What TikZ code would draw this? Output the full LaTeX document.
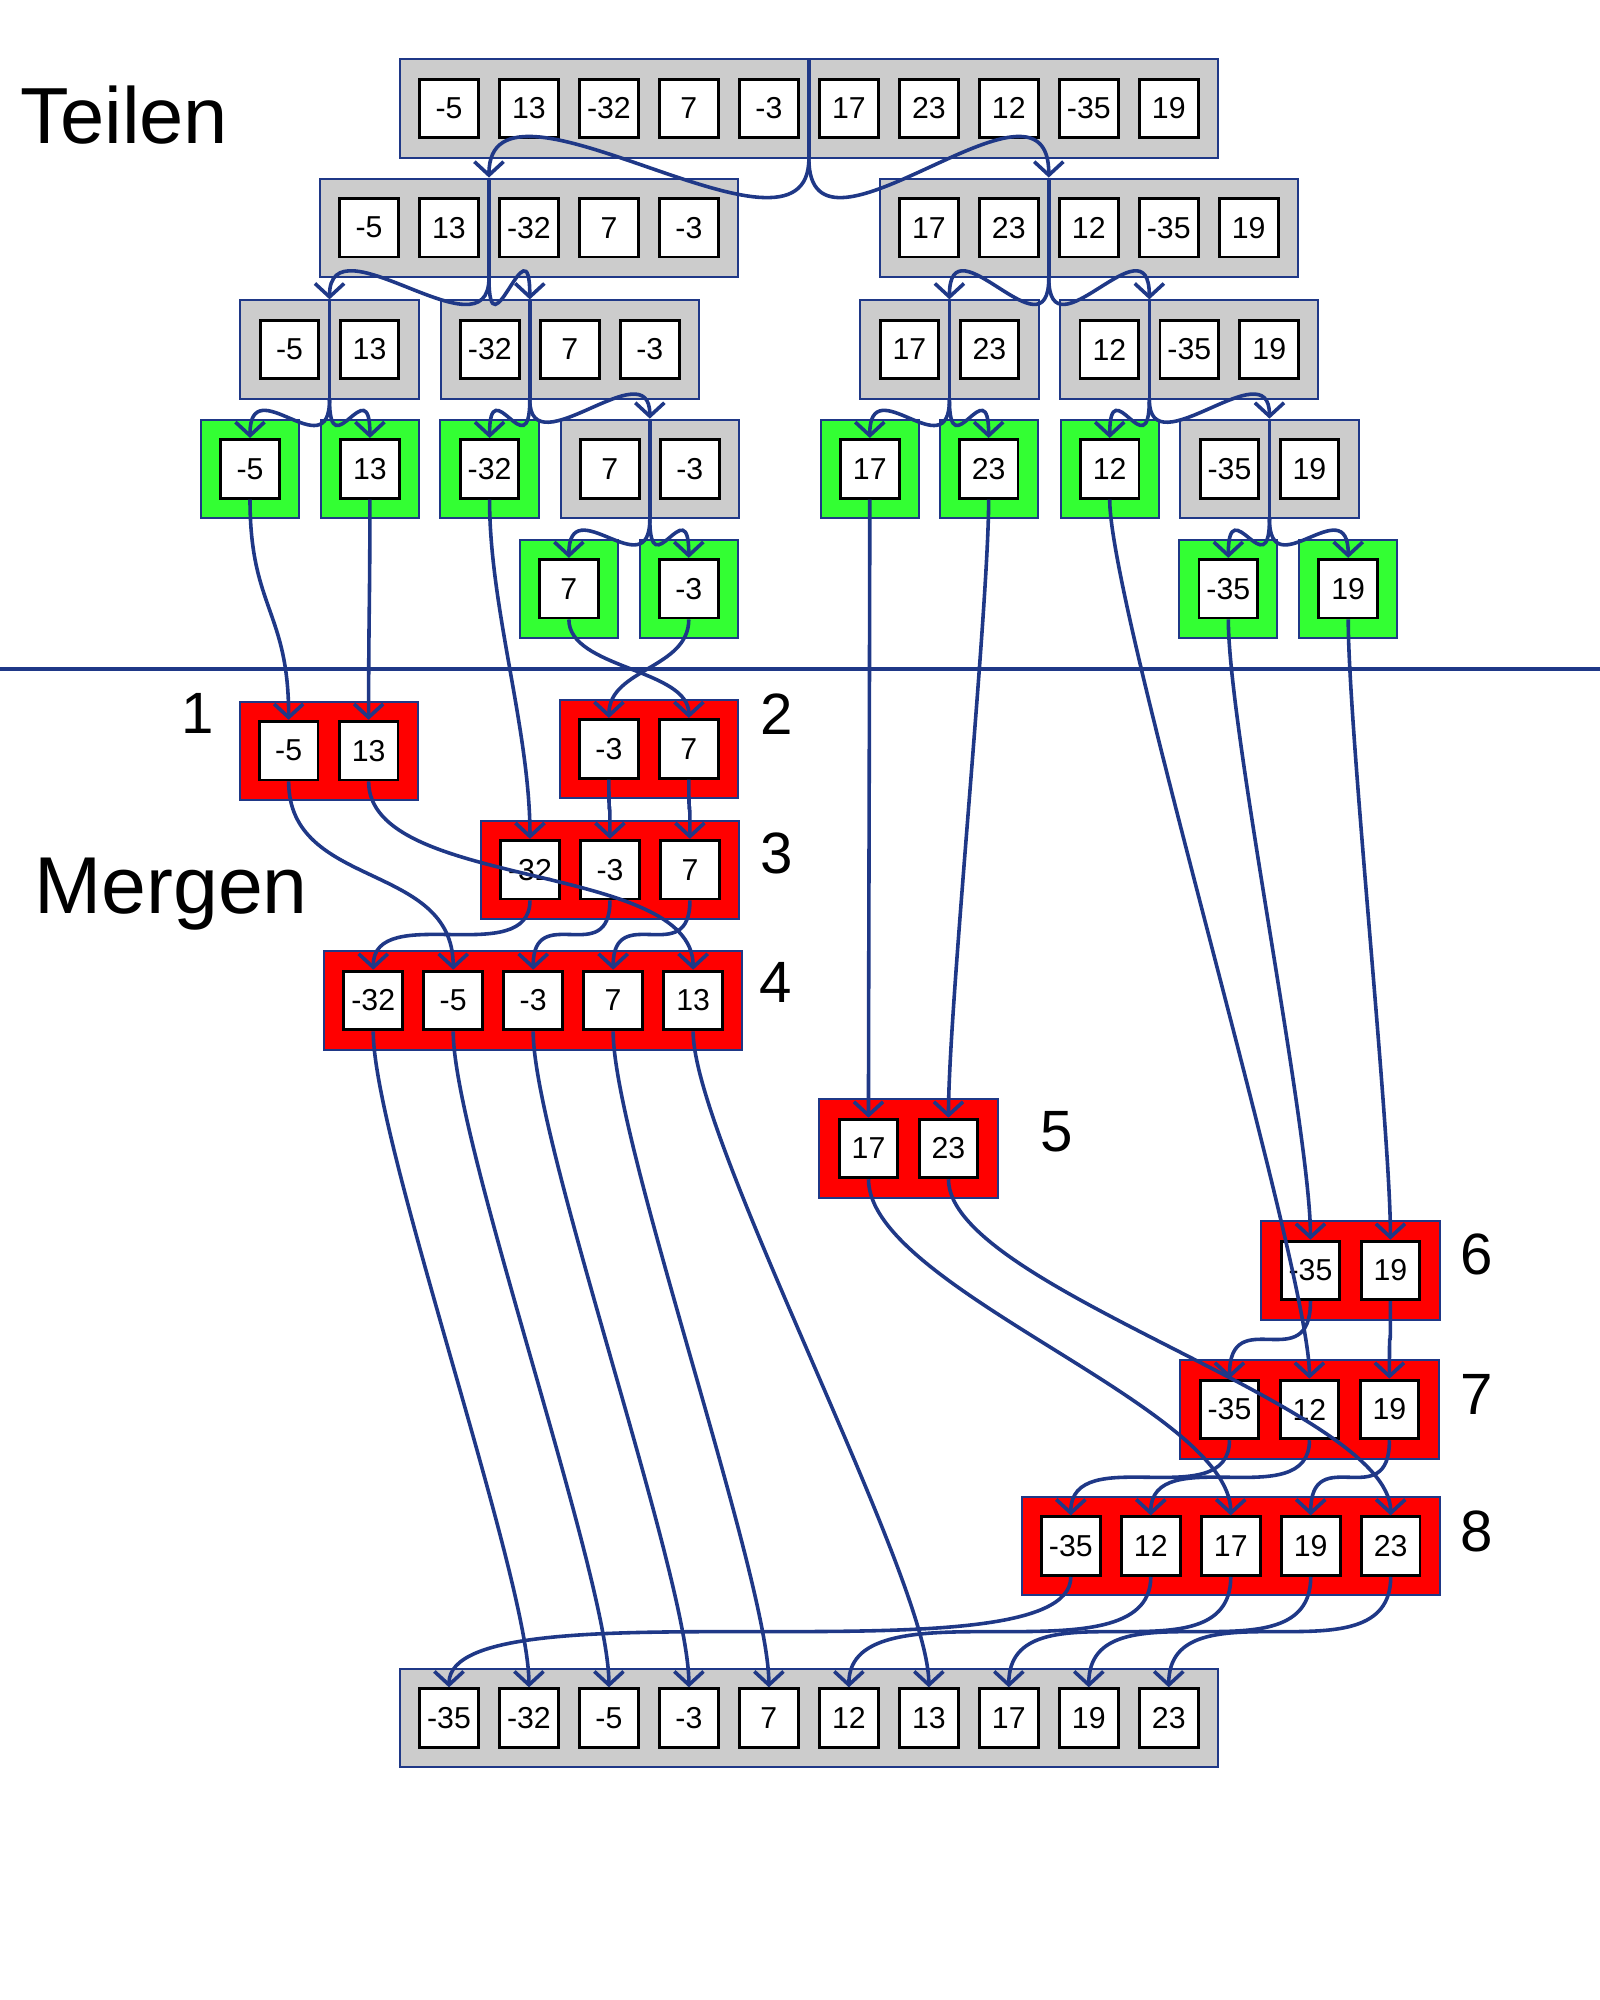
\documentclass[tikz,border=0pt]{standalone}
\usepackage{fontspec}
\setmainfont{Liberation Sans}
\usetikzlibrary{calc,arrows.meta}
\definecolor{linkblue}{RGB}{31,56,135}
\definecolor{panelgray}{RGB}{204,204,204}
\definecolor{leafgreen}{RGB}{51,255,51}
\definecolor{mergered}{RGB}{255,0,0}
\tikzstyle{panel}=[
	rectangle,
	draw=linkblue,
	line width=0.9pt,
	minimum height=1.54cm,
	inner sep=0pt]
\tikzstyle{cell}=[
	rectangle,
	draw=black,
	fill=white,
	line width=1.3pt,
	minimum width=0.92cm,
	minimum height=0.92cm,
	inner sep=0pt,
	font=\fontsize{13.5}{15}\selectfont]
\tikzstyle{link}=[draw=linkblue, line width=1.6pt]
\tikzstyle{rule}=[draw=linkblue, line width=1.6pt]
\tikzstyle{title}=[anchor=base west, inner sep=0pt]
\tikzstyle{stepno}=[inner sep=0pt, font=\fontsize{26}{30}\selectfont]
\tikzset{
	>={Straight Barb[length=6pt,width=13pt]},
	split/.style={out=-90, in=90, distance=#1},
	merge/.style={to path={let \p1=(\tikztostart), \p2=(\tikztotarget),
		\n1={min(\y1-\y2, #1)} in
		.. controls (\x1,{\y1-\n1*1pt}) and (\x2,{\y2+\n1*1pt}) .. (\tikztotarget) \tikztonodes}},
	merge/.default=48.4
}
% one array: name, fill, x of first cell, y, number of cells, values
\newcommand{\arr}[6]{%
	\node[panel, fill=#2, minimum width={(#5*62.7+14.3)*0.02cm}] (#1) at ({#3+(#5-1)*31.35},#4) {};
	\foreach \val [count=\i] in {#6}
		\node[cell] (#1-\i) at ({#3+(\i-1)*62.7},#4) {\val};
}

\begin{document}
\begin{tikzpicture}[x=0.02cm, y=-0.02cm]
	\useasboundingbox (0,0) rectangle (1254,1568);

	\node[title, font=\fontsize{35.5}{40}\selectfont] (Teilen) at (15.6,112.3) {Teilen};
	\node[title, font=\fontsize{36}{40}\selectfont] (Mergen) at (26.5,715.8) {Mergen};

	% Teilen
	\arr{T}{panelgray}{352}{85}{10}{-5,13,-32,7,-3,17,23,12,-35,19}
	\arr{T1}{panelgray}{289.3}{178.5}{5}{-5,13,-32,7,-3}
	\arr{T2}{panelgray}{728.2}{178.5}{5}{17,23,12,-35,19}
	\arr{T11}{panelgray}{227}{274}{2}{-5,13}
	\arr{T12}{panelgray}{384}{274}{3}{-32,7,-3}
	\arr{T21}{panelgray}{713}{274}{2}{17,23}
	\arr{T22}{panelgray}{869.7}{274}{3}{12,-35,19}
	\arr{T111}{leafgreen}{196}{367.5}{1}{-5}
	\arr{T112}{leafgreen}{290}{367.5}{1}{13}
	\arr{T121}{leafgreen}{383.8}{367.5}{1}{-32}
	\arr{T122}{panelgray}{478.1}{367.5}{2}{7,-3}
	\arr{T211}{leafgreen}{681.9}{367.5}{1}{17}
	\arr{T212}{leafgreen}{775.1}{367.5}{1}{23}
	\arr{T221}{leafgreen}{870}{367.5}{1}{12}
	\arr{T222}{panelgray}{963.9}{367.5}{2}{-35,19}
	\arr{T1221}{leafgreen}{446}{461.5}{1}{7}
	\arr{T1222}{leafgreen}{540}{461.5}{1}{-3}
	\arr{T2221}{leafgreen}{963}{461.5}{1}{-35}
	\arr{T2222}{leafgreen}{1057}{461.5}{1}{19}

	\draw[rule] (0,524.5) -- (1254,524.5);

	% Mergen
	\arr{M1}{mergered}{226.3}{588.5}{2}{-5,13}
	\arr{M2}{mergered}{477.4}{587}{2}{-3,7}
	\arr{M3}{mergered}{415.5}{681.8}{3}{-32,-3,7}
	\arr{M4}{mergered}{292.6}{784.4}{5}{-32,-5,-3,7,13}
	\arr{M5}{mergered}{680.9}{900.4}{2}{17,23}
	\arr{M6}{mergered}{1027.4}{996}{2}{-35,19}
	\arr{M7}{mergered}{963.9}{1105}{3}{-35,12,19}
	\arr{M8}{mergered}{839.5}{1212.2}{5}{-35,12,17,19,23}
	\arr{S}{panelgray}{352}{1347}{10}{-35,-32,-5,-3,7,12,13,17,19,23}

	\foreach \n/\x/\y in {1/155/559.7, 2/608.6/559.7, 3/609/669.4, 4/608.2/770.6,
		5/828.5/887.2, 6/1157.5/983.5, 7/1157.5/1093.5, 8/1157.5/1200.5}
		\node[stepno] (N\n) at (\x,\y) {\n};

	% split points
	\foreach \a/\k/\l in {T/5/6, T1/2/3, T2/2/3, T11/1/2, T12/1/2, T21/1/2, T22/1/2, T122/1/2, T222/1/2}
		\coordinate (\a-s) at ($(\a-\k)!.5!(\a-\l)$);
	\foreach \a in {T, T1, T2, T11, T12, T21, T22, T122, T222}
		\draw[link] (\a-s |- \a.north) -- (\a-s |- \a.south);

	\draw[link,->] (T-s |- T.south) to[split=2cm] (T1-s |- T1.north);
	\draw[link,->] (T-s |- T.south) to[split=2cm] (T2-s |- T2.north);
	\draw[link,->] (T1-s |- T1.south) to[split=1.3cm] (T11-s |- T11.north);
	\draw[link,->] (T1-s |- T1.south) to[split=1.3cm] (T12-s |- T12.north);
	\draw[link,->] (T2-s |- T2.south) to[split=1.3cm] (T21-s |- T21.north);
	\draw[link,->] (T2-s |- T2.south) to[split=1.3cm] (T22-s |- T22.north);
	\draw[link,->] (T11-s |- T11.south) to[split=1.1cm] (T111-1.north);
	\draw[link,->] (T11-s |- T11.south) to[split=1.1cm] (T112-1.north);
	\draw[link,->] (T12-s |- T12.south) to[split=1.1cm] (T121-1.north);
	\draw[link,->] (T12-s |- T12.south) to[split=1.1cm] (T122-s |- T122.north);
	\draw[link,->] (T21-s |- T21.south) to[split=1.1cm] (T211-1.north);
	\draw[link,->] (T21-s |- T21.south) to[split=1.1cm] (T212-1.north);
	\draw[link,->] (T22-s |- T22.south) to[split=1.1cm] (T221-1.north);
	\draw[link,->] (T22-s |- T22.south) to[split=1.1cm] (T222-s |- T222.north);
	\draw[link,->] (T122-s |- T122.south) to[split=1.1cm] (T1221-1.north);
	\draw[link,->] (T122-s |- T122.south) to[split=1.1cm] (T1222-1.north);
	\draw[link,->] (T222-s |- T222.south) to[split=1.1cm] (T2221-1.north);
	\draw[link,->] (T222-s |- T222.south) to[split=1.1cm] (T2222-1.north);

	% merge steps
	\draw[link,->] (T1222-1.south) to[merge=22] (M2-1.north);
	\draw[link,->] (T1221-1.south) to[merge=22] (M2-2.north);
	\foreach \a/\b in {T111-1/M1-1, T112-1/M1-2,
		T121-1/M3-1, M2-1/M3-2, M2-2/M3-3,
		M3-1/M4-1, M1-1/M4-2, M3-2/M4-3, M3-3/M4-4, M1-2/M4-5,
		T211-1/M5-1, T212-1/M5-2, T2221-1/M6-1, T2222-1/M6-2,
		M6-1/M7-1, T221-1/M7-2, M6-2/M7-3,
		M7-1/M8-1, M7-2/M8-2, M5-1/M8-3, M7-3/M8-4, M5-2/M8-5,
		M8-1/S-1, M4-1/S-2, M4-2/S-3, M4-3/S-4, M4-4/S-5,
		M8-2/S-6, M4-5/S-7, M8-3/S-8, M8-4/S-9, M8-5/S-10}
		\draw[link,->] (\a.south) to[merge] (\b.north);

\end{tikzpicture}
\end{document}
